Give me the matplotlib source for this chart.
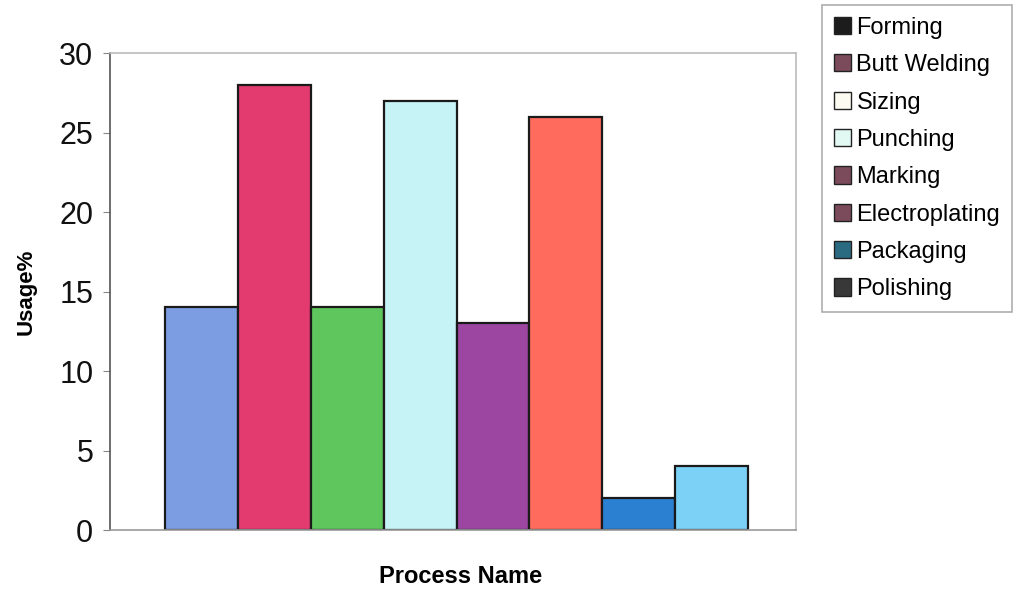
import matplotlib.pyplot as plt
from matplotlib.patches import Patch

# data
processes = ["Forming", "Butt Welding", "Sizing", "Punching",
             "Marking", "Electroplating", "Packaging", "Polishing"]
usage = [14, 28, 14, 27, 13, 26, 2, 4]

bar_colors = ["#7d9de2", "#e33b70", "#5ec65c", "#c6f3f6",
              "#9c46a2", "#ff6b5c", "#2b80d2", "#7cd2f6"]
# the legend swatches in the original do not match the bars
legend_colors = ["#1c1c1c", "#7b4b5b", "#fbfbf2", "#e2f8f2",
                 "#7b4b5b", "#7b4b5b", "#2b6b82", "#383838"]

plt.rcParams['font.family'] = ['Liberation Sans', 'DejaVu Sans']

fig = plt.figure(figsize=(10.14, 5.89), dpi=100)
ax = fig.add_axes([0.1085, 0.100, 0.677, 0.810])

x = [i + 0.5 for i in range(len(usage))]
ax.bar(x, usage, width=1.0, color=bar_colors, edgecolor="#1a1a1a", linewidth=1.6)

ax.set_xlim(-0.75, 8.66)
ax.set_ylim(0, 30)
ax.set_yticks(range(0, 31, 5))
ax.set_xticks([])
ax.tick_params(axis="y", labelsize=22, length=5, color="#888888", pad=7,
               labelcolor="#111111")

ax.spines["left"].set_color("#555555")
ax.spines["bottom"].set_color("#999999")
ax.spines["top"].set_color("#bbbbbb")
ax.spines["right"].set_color("#bbbbbb")
for s in ax.spines.values():
    s.set_linewidth(1.2)

ax.set_ylabel("Usage%", fontsize=16, fontweight="bold")
ax.yaxis.set_label_coords(-0.107, 0.5)
ax.set_xlabel("Process Name", fontsize=17, fontweight="bold")
ax.xaxis.set_label_coords(0.51, -0.074)

handles = [Patch(facecolor=c, edgecolor="#222222", linewidth=1.0) for c in legend_colors]
leg = fig.legend(handles, processes, loc="upper left",
                 bbox_to_anchor=(822 / 1014, 1 - 5 / 589),
                 fontsize=17, frameon=True, fancybox=False,
                 handlelength=0.74, handleheight=0.74, handletextpad=0.22,
                 labelspacing=0.65, borderpad=0.5, borderaxespad=0)
leg.get_frame().set_edgecolor("#999999")
leg.get_frame().set_linewidth(1.2)

fig.savefig("out.png", dpi=100)
